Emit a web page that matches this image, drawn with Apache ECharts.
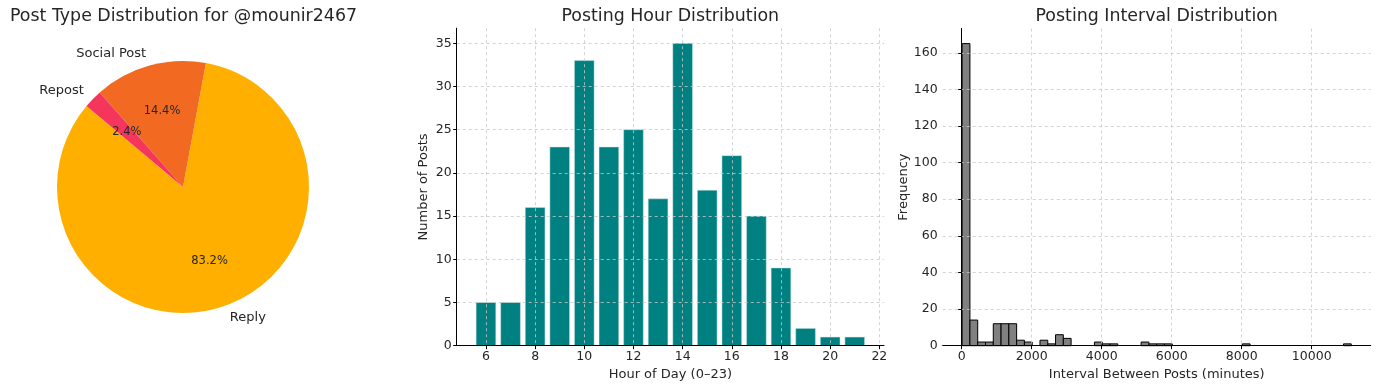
<!DOCTYPE html>
<html>
<head>
<meta charset="utf-8">
<script src="https://cdn.jsdelivr.net/npm/echarts@6/dist/echarts.min.js"></script>
<style>
html,body{margin:0;padding:0;background:#fff;}
#c{width:1378px;height:388px;}
</style>
</head>
<body>
<div id="c"></div>
<script>
// ---- Pie data ----
const postTypes = ['Reply', 'Social Post', 'Repost'];
const postTypeCounts = [208, 36, 6];
const postTypeColors = ['#FFAF00', '#F26A22', '#F5365C'];

// ---- Hour distribution ----
const hours = [6, 7, 8, 9, 10, 11, 12, 13, 14, 15, 16, 17, 18, 19, 20, 21];
const hourCounts = [5, 5, 16, 23, 33, 23, 25, 17, 35, 18, 22, 15, 9, 2, 1, 1];
const hourTicks = [6, 8, 10, 12, 14, 16, 18, 20, 22];
const hourYTicks = [0, 5, 10, 15, 20, 25, 30, 35];

// ---- Interval histogram (50 equal bins between min and max interval) ----
const intervalMin = 13;
const intervalMax = 11130;
const intervalBinCounts = [
  165, 14, 2, 2, 12, 12, 12, 3, 2, 0,
  3, 1, 6, 4, 0, 0, 0, 2, 1, 1,
  0, 0, 0, 2, 1, 1, 1, 0, 0, 0,
  0, 0, 0, 0, 0, 0, 1, 0, 0, 0,
  0, 0, 0, 0, 0, 0, 0, 0, 0, 1
];
const intervalXTicks = [0, 2000, 4000, 6000, 8000, 10000];
const intervalYTicks = [0, 20, 40, 60, 80, 100, 120, 140, 160];

// ---- derived ----
const BAR_W = 0.8;
const binW = (intervalMax - intervalMin) / intervalBinCounts.length;
const histData = intervalBinCounts.map((c, i) => [intervalMin + i * binW, intervalMin + (i + 1) * binW, c]);
const hourData = hours.map((h, i) => [h, hourCounts[i]]);
const hLo = hours[0] - BAR_W / 2, hHi = hours[hours.length - 1] + BAR_W / 2;
const hPad = 0.05 * (hHi - hLo);
const iPad = 0.05 * (intervalMax - intervalMin);

const FONT = 'DejaVu Sans';
const TXT = '#262626';
const GRIDC = '#c8c8c8';

function axisCommon(ticks) {
  return {
    axisLine: {show: true, lineStyle: {color: '#000', width: 1}},
    axisTick: {show: true, inside: false, length: 3.5, lineStyle: {color: '#000'}, customValues: ticks},
    axisLabel: {color: TXT, fontFamily: FONT, fontSize: 12.5, margin: 5, customValues: ticks,
      formatter: v => String(v)},
    splitLine: {show: true, lineStyle: {color: GRIDC, type: [3, 3], width: 0.8}},
    nameTextStyle: {color: TXT, fontFamily: FONT, fontSize: 13},
    nameLocation: 'middle',
    z: 5
  };
}

const chart = echarts.init(document.getElementById('c'), null, {renderer: 'canvas'});
const pieData = postTypes.map((n, i) => ({name: n, value: postTypeCounts[i], itemStyle: {color: postTypeColors[i]}}));
const R = 126;
const PC = [183, 187];

chart.setOption({
  animation: false,
  backgroundColor: '#fff',
  title: [
    {text: 'Post Type Distribution for @mounir2467', left: 183.5, top: 8, textAlign: 'center', padding: 0,
     textStyle: {fontFamily: FONT, fontSize: 17.4, fontWeight: 'normal', color: TXT}},
    {text: 'Posting Hour Distribution', left: 670.3, top: 8, textAlign: 'center', padding: 0,
     textStyle: {fontFamily: FONT, fontSize: 17.4, fontWeight: 'normal', color: TXT}},
    {text: 'Posting Interval Distribution', left: 1156.7, top: 8, textAlign: 'center', padding: 0,
     textStyle: {fontFamily: FONT, fontSize: 17.4, fontWeight: 'normal', color: TXT}}
  ],
  grid: [
    {left: 456.7, right: 494, top: 28.2, bottom: 42.3},
    {left: 942.7, right: 7.3, top: 28.5, bottom: 42.3}
  ],
  xAxis: [
    Object.assign(axisCommon(hourTicks), {type: 'value', gridIndex: 0, min: hLo - hPad, max: hHi + hPad,
      name: 'Hour of Day (0–23)', nameGap: 20}),
    Object.assign(axisCommon(intervalXTicks), {type: 'value', gridIndex: 1, min: intervalMin - iPad, max: intervalMax + iPad,
      name: 'Interval Between Posts (minutes)', nameGap: 20})
  ],
  yAxis: [
    Object.assign(axisCommon(hourYTicks), {type: 'value', gridIndex: 0, min: 0, max: Math.max(...hourCounts) * 1.05,
      name: 'Number of Posts', nameGap: 27}),
    Object.assign(axisCommon(intervalYTicks), {type: 'value', gridIndex: 1, min: 0, max: Math.max(...intervalBinCounts) * 1.05,
      name: 'Frequency', nameGap: 33})
  ],
  series: [
    {
      type: 'pie', center: PC, radius: [0, R], startAngle: 140, clockwise: false,
      avoidLabelOverlap: false, silent: true,
      data: pieData,
      label: {show: true, position: 'outside', alignTo: 'none', distanceToLabelLine: 0,
        fontFamily: FONT, fontSize: 13, color: TXT, formatter: '{b}'},
      labelLine: {show: false, length: R * 0.1, length2: 0},
      itemStyle: {borderWidth: 0}
    },
    {
      type: 'pie', center: PC, radius: [R * 0.2, R], startAngle: 140, clockwise: false,
      avoidLabelOverlap: false, silent: true, z: 3,
      data: postTypes.map((n, i) => ({name: n, value: postTypeCounts[i]})),
      itemStyle: {color: 'rgba(0,0,0,0)', borderWidth: 0},
      label: {show: true, position: 'inner', fontFamily: FONT, fontSize: 11.5, color: TXT,
        formatter: p => p.percent.toFixed(1) + '%'},
      labelLine: {show: false}
    },
    {
      type: 'custom', xAxisIndex: 0, yAxisIndex: 0, data: hourData, z: 2,
      renderItem: (params, api) => {
        const x = api.value(0), y = api.value(1);
        const p0 = api.coord([x - BAR_W / 2, y]);
        const p1 = api.coord([x + BAR_W / 2, 0]);
        return {type: 'rect', shape: {x: p0[0], y: p0[1], width: p1[0] - p0[0], height: p1[1] - p0[1]},
          style: {fill: '#008080', stroke: 'rgba(200,230,230,0.8)', lineWidth: 0.6}};
      }
    },
    {
      type: 'custom', xAxisIndex: 1, yAxisIndex: 1, data: histData, z: 2,
      renderItem: (params, api) => {
        const x0 = api.value(0), x1 = api.value(1), c = api.value(2);
        if (!c) return null;
        const p0 = api.coord([x0, c]);
        const p1 = api.coord([x1, 0]);
        return {type: 'rect', shape: {x: p0[0], y: p0[1], width: p1[0] - p0[0], height: p1[1] - p0[1]},
          style: {fill: '#808080', stroke: '#000', lineWidth: 1}};
      }
    }
  ]
});
</script>
</body>
</html>
